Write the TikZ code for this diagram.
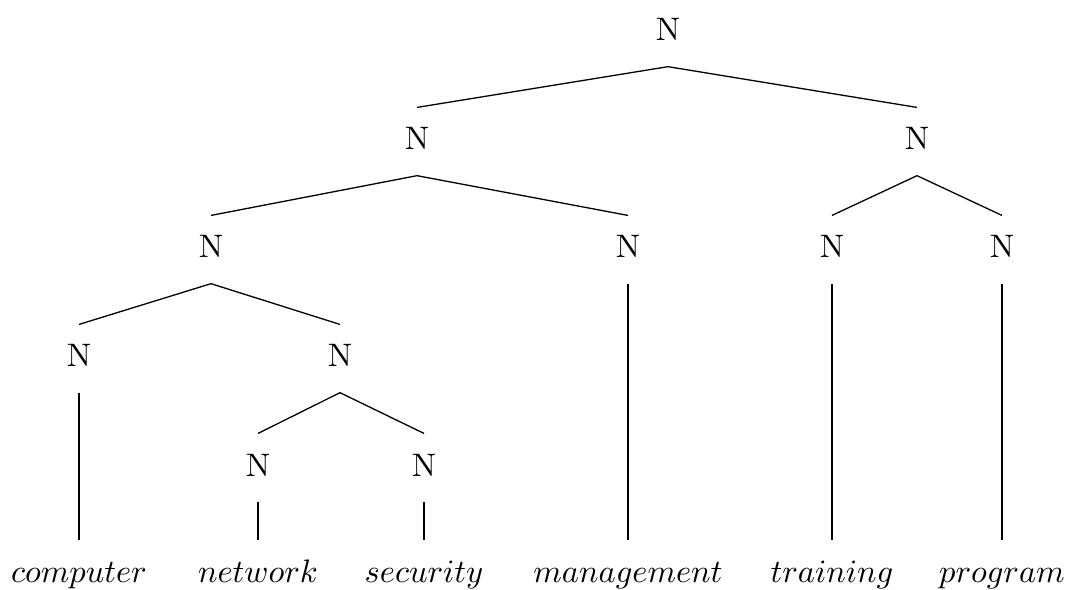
\documentclass[tikz,border=0pt]{standalone}
\usepackage{amsmath,amssymb}
\tikzset{
  cat/.style={anchor=base,inner xsep=2pt,inner ysep=0pt,text height=12.9pt,text depth=7.7pt},
  word/.style={cat},
  edge/.style={draw=black,line width=.4pt},
}
\begin{document}
\begin{tikzpicture}[x=0.3077pt,y=-0.3077pt]
  \useasboundingbox (0,0) rectangle (1074,590);
  % categories
  \node[cat] (n) at (668,41) {N};
  \node[cat] (nl) at (417,150) {N};
  \node[cat] (nr) at (917,150) {N};
  \node[cat] (nll) at (211,258) {N};
  \node[cat] (nlr) at (628,258) {N};
  \node[cat] (nrl) at (832,258) {N};
  \node[cat] (nrr) at (1002,258) {N};
  \node[cat] (nlll) at (79,367) {N};
  \node[cat] (nllr) at (340,367) {N};
  \node[cat] (nllrl) at (258,476) {N};
  \node[cat] (nllrr) at (424,476) {N};
  % words
  \node[word] (w1) at (79,583) {$computer$};
  \node[word] (w2) at (258,583) {$network$};
  \node[word] (w3) at (424,583) {$security$};
  \node[word] (w4) at (628,583) {$management$};
  \node[word] (w5) at (832,583) {$training$};
  \node[word] (w6) at (1002,583) {$program$};
  \draw[edge] (n.south)--(nl.north) (n.south)--(nr.north);
  \draw[edge] (nl.south)--(nll.north) (nl.south)--(nlr.north);
  \draw[edge] (nr.south)--(nrl.north) (nr.south)--(nrr.north);
  \draw[edge] (nll.south)--(nlll.north) (nll.south)--(nllr.north);
  \draw[edge] (nllr.south)--(nllrl.north) (nllr.south)--(nllrr.north);
  \draw[edge] (nlll.south)--(w1.north);
  \draw[edge] (nllrl.south)--(w2.north);
  \draw[edge] (nllrr.south)--(w3.north);
  \draw[edge] (nlr.south)--(w4.north);
  \draw[edge] (nrl.south)--(w5.north);
  \draw[edge] (nrr.south)--(w6.north);
\end{tikzpicture}
\end{document}
